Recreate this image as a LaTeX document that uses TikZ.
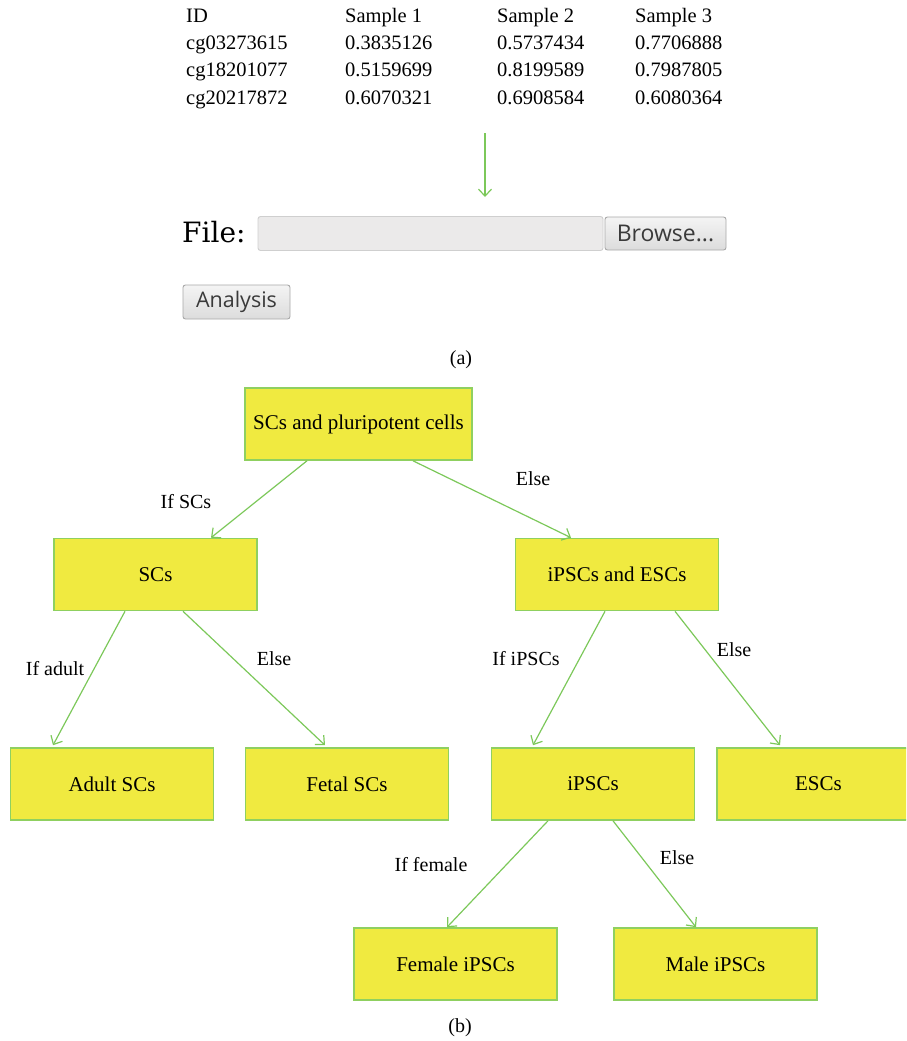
\documentclass[tikz,border=0pt]{standalone}
\usepackage{fontspec}
\setmainfont{Liberation Serif}
\newfontfamily\filefont{DejaVu Serif}
\newfontfamily\btnfont{Open Sans}
\usetikzlibrary{arrows.meta,calc}
\definecolor{boxfill}{HTML}{F0EA40}
\definecolor{boxline}{HTML}{8FD060}
\definecolor{arrline}{HTML}{7CC85A}
\definecolor{btntop}{HTML}{F4F4F4}
\definecolor{btnbot}{HTML}{DCDCDC}
\definecolor{btnline}{HTML}{A8A8A8}
\definecolor{fieldfill}{HTML}{EBEAEA}
\definecolor{fieldline}{HTML}{CFCFCF}
\definecolor{btntext}{HTML}{3A3A3A}
\tikzset{
  x=1pt, y=-1pt,
  tabtxt/.style={anchor=base west, inner sep=0pt, font=\fontsize{20.5}{24}\selectfont},
  ybox/.style={draw=boxline, line width=1.6pt, fill=boxfill, minimum width=203pt, minimum height=72pt, inner sep=0pt, font=\fontsize{21}{24}\selectfont},
  arr/.style={draw=arrline, line width=1.2pt, -{Straight Barb[length=7pt,width=13pt,line width=1.2pt]}},
  lbl/.style={inner sep=0pt, font=\fontsize{20}{24}\selectfont},
  btn/.style={draw=btnline, line width=0.9pt, rounded corners=2.5pt, top color=btntop, bottom color=btnbot, inner sep=0pt, text=btntext},
}
\begin{document}
\begin{tikzpicture}
\useasboundingbox (0,0) rectangle (906,1041);
\clip (0,0) rectangle (906,1041);
% (a) table
\node[tabtxt] (h0) at (186,23) {ID};
\node[tabtxt] (h1) at (345,23) {Sample 1};
\node[tabtxt] (h2) at (497,23) {Sample 2};
\node[tabtxt] (h3) at (635,23) {Sample 3};
\node[tabtxt] (r10) at (186,50) {cg03273615};
\node[tabtxt] (r11) at (345,50) {0.3835126};
\node[tabtxt] (r12) at (497,50) {0.5737434};
\node[tabtxt] (r13) at (635,50) {0.7706888};
\node[tabtxt] (r20) at (186,77) {cg18201077};
\node[tabtxt] (r21) at (345,77) {0.5159699};
\node[tabtxt] (r22) at (497,77) {0.8199589};
\node[tabtxt] (r23) at (635,77) {0.7987805};
\node[tabtxt] (r30) at (186,104) {cg20217872};
\node[tabtxt] (r31) at (345,104) {0.6070321};
\node[tabtxt] (r32) at (497,104) {0.6908584};
\node[tabtxt] (r33) at (635,104) {0.6080364};
\coordinate (atop) at (485,133);
\coordinate (abot) at (485,197);
\draw[arr] (atop) -- (abot);
% file chooser
\node[anchor=base west, inner sep=0pt, font=\filefont\fontsize{28}{30}\selectfont, text=black] (file) at (182,242) {File:};
\node[draw=fieldline, line width=0.9pt, fill=fieldfill, rounded corners=2.5pt, minimum width=345pt, minimum height=34pt, inner sep=0pt] (field) at (430.5,233.5) {};
\node[btn, minimum width=121pt, minimum height=33pt, font=\btnfont\fontsize{23}{26}\selectfont] (browse) at (665.5,233.5) {Browse...};
\node[btn, minimum width=107pt, minimum height=34pt, font=\btnfont\fontsize{21.5}{24}\selectfont] (analysis) at (236.5,302) {Analysis};
\node[lbl] (capa) at (461,360) {(a)};
% (b) tree
\node[ybox, minimum width=227pt] (root) at (358.5,424) {SCs and pluripotent cells};
\node[ybox] (sc) at (155.5,574.5) {SCs};
\node[ybox] (pe) at (617,574.5) {iPSCs and ESCs};
\node[ybox] (adult) at (112,784) {Adult SCs};
\node[ybox] (fetal) at (347,784) {Fetal SCs};
\node[ybox] (ips) at (593,784) {iPSCs};
\node[ybox] (esc) at (818.5,784) {ESCs};
\node[ybox] (fem) at (455.5,964) {Female iPSCs};
\node[ybox] (male) at (715.5,964) {Male iPSCs};
\draw[arr] ([xshift=-51.5pt]root.south) -- ([xshift=55.5pt]sc.north);
\draw[arr] ([xshift=54.5pt]root.south) -- ([xshift=-46pt]pe.north);
\draw[arr] ([xshift=-30.5pt]sc.south) -- ([xshift=-59pt,yshift=2pt]adult.north);
\draw[arr] ([xshift=27.5pt]sc.south) -- ([xshift=-22pt,yshift=2pt]fetal.north);
\draw[arr] ([xshift=-12pt]pe.south) -- ([xshift=-60pt,yshift=2pt]ips.north);
\draw[arr] ([xshift=58pt]pe.south) -- ([xshift=-38.5pt,yshift=2pt]esc.north);
\draw[arr] ([xshift=-45pt]ips.south) -- ([xshift=-8.5pt]fem.north);
\draw[arr] ([xshift=20pt]ips.south) -- ([xshift=-19.5pt]male.north);
\node[lbl] (l1) at (186,502) {If SCs};
\node[lbl] (l2) at (533,479) {Else};
\node[lbl] (l3) at (55,669) {If adult};
\node[lbl] (l4) at (274,659) {Else};
\node[lbl] (l5) at (526,659) {If iPSCs};
\node[lbl] (l6) at (734,650) {Else};
\node[lbl] (l7) at (431,865) {If female};
\node[lbl] (l8) at (677,858) {Else};
\node[lbl] (capb) at (460,1028) {(b)};
\end{tikzpicture}
\end{document}
